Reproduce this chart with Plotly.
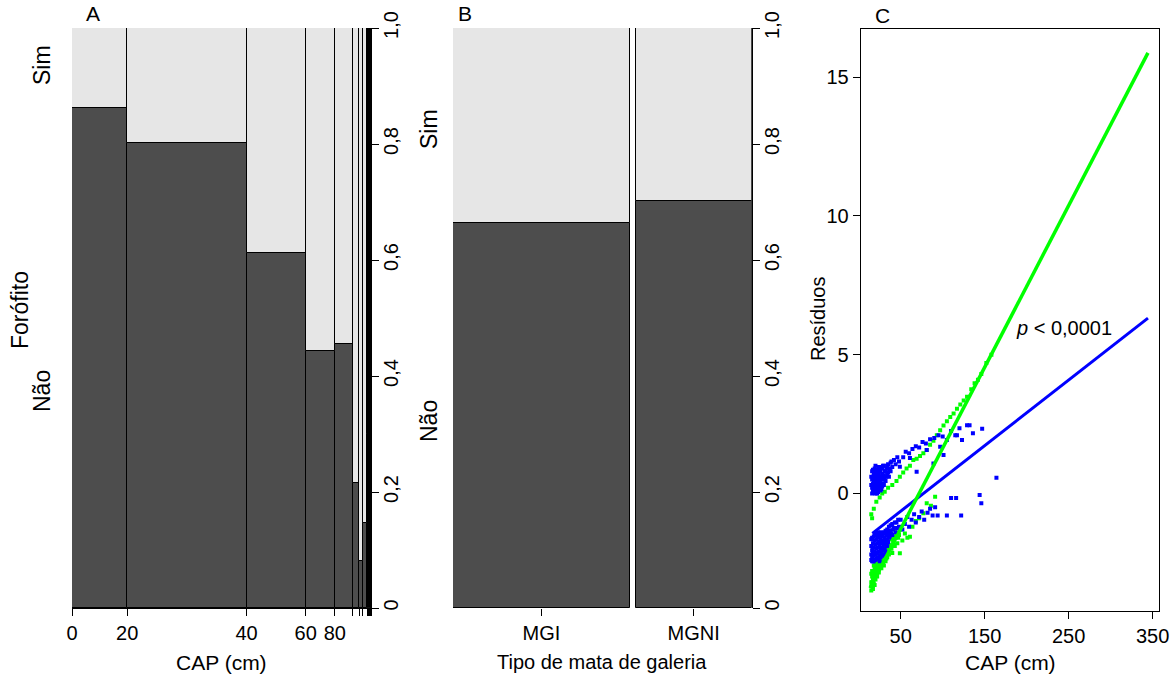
import plotly.graph_objects as go
import numpy as np

W, H = 1172, 678

# ---------------- Panel A: spineplot Forófito ~ CAP ----------------
cap_breaks = [0, 20, 40, 60, 80, 100, 120, 140, 160, 180, 200, 220, 240, 260, 280, 300, 320, 340, 360]
cap_counts = [550, 1190, 590, 290, 177, 68, 36, 42, 8, 6, 5, 4, 4, 3, 3, 2, 2, 1]
cap_nao = [0.862, 0.802, 0.612, 0.443, 0.455, 0.216, 0.081, 0.147,
           0.30, 0.0, 0.50, 0.0, 0.25, 0.0, 0.0, 0.50, 0.0, 0.0]
cap_labelled = [0, 20, 40, 60, 80]

# ---------------- Panel B: spineplot Forófito ~ tipo de mata ----------------
mata_types = ["MGI", "MGNI"]
mata_counts = [604, 396]
mata_nao = [0.664, 0.702]

# ---------------- Panel C: residuals vs CAP ----------------
blue_up_cap = [16, 16, 16, 17, 17, 17, 18, 18, 18, 19, 19, 19, 20, 20, 20, 21, 21, 21, 22, 22, 22, 22,
               23, 23, 24, 24, 25, 25, 26, 26, 27, 27, 28, 28, 29, 30, 30, 31, 32, 33, 34, 35, 36, 38,
               40, 42, 44, 46, 48, 49, 53, 56, 60, 61, 64, 68, 69, 72, 76, 80, 81, 85, 89, 90, 95, 97,
               100, 101, 105, 110, 115, 117, 120, 123, 129, 132, 136, 147,
               15, 15, 16, 17, 18, 19, 20, 20, 21, 22, 23, 23, 24, 24, 25, 25, 26, 26, 27, 27, 28, 28,
               29, 29, 30, 31, 32, 33, 34, 35, 36, 37, 38, 39]
blue_up_res = [0.2, 0.5, 0.8, 0.1, 0.35, 0.6, 0.25, 0.45, 0.7, 0.15, 0.4, 0.9, 0.3, 0.55, 0.75, 0.2, 0.45, 0.65,
               0.1, 0.35, 0.6, 0.85, 0.25, 0.5, 0.4, 0.7, 0.2, 0.55, 0.45, 0.8, 0.3, 0.6, 0.5, 0.9, 0.35,
               0.65, 1.0, 0.5, 0.8, 0.6, 1.0, 0.75, 0.9, 1.1, 0.95, 1.2, 1.05, 1.3, 1.15, 0.96, 1.3, 1.5,
               1.45, 1.28, 1.6, 1.7, 0.78, 1.65, 1.85, 1.8, 1.56, 1.95, 1.08, 2.0, 2.1, 1.68, 2.05, 1.38,
               1.92, 2.25, 2.1, 2.1, 2.35, 1.92, 2.46, 2.46, 2.17, 2.33,
               0.3, 0.6, 0.0, 0.85, 0.05, 0.65, 0.0, 1.0, 0.85, 0.0, 0.75, 0.05, 0.15, 0.95, 0.35, 0.85,
               0.1, 0.6, 0.15, 0.95, 0.25, 0.7, 0.55, 1.0, 0.3, 0.8, 0.45, 0.9, 0.7, 1.05, 0.6, 0.85,
               0.8, 1.15]

blue_lo_cap = [15, 15, 15, 16, 16, 16, 17, 17, 17, 18, 18, 18, 19, 19, 19, 20, 20, 20, 21, 21, 21, 22, 22, 22,
               23, 23, 23, 24, 24, 25, 25, 25, 26, 26, 27, 27, 27, 28, 28, 29, 29, 30, 30, 31, 31, 32, 32,
               33, 33, 34, 34, 35, 36, 36, 38, 40, 40, 42, 44, 45, 48, 50, 52, 55, 58, 60, 63, 66, 68, 72,
               75, 78, 82, 85, 88, 91, 94, 105, 110, 116, 122, 144, 146, 164,
               15, 16, 17, 18, 19, 20, 21, 22, 23, 24, 24, 25, 26, 26, 27, 28, 28, 29, 30, 31, 31, 32,
               33, 34, 34, 35, 36, 37, 38, 39, 41, 43, 46, 47]
blue_lo_res = [-1.9, -2.2, -2.4, -1.6, -2.05, -2.3, -1.8, -2.15, -2.45, -1.55, -1.95, -2.25, -1.7, -2.1, -2.4,
               -1.5, -1.85, -2.2, -1.65, -2.0, -2.35, -1.45, -1.8, -2.15, -1.6, -1.95, -2.3, -1.75, -2.1,
               -1.5, -1.9, -2.25, -1.65, -2.0, -1.4, -1.8, -2.15, -1.55, -1.95, -1.7, -2.05, -1.45, -1.85,
               -1.6, -2.0, -1.35, -1.75, -1.5, -1.9, -1.3, -1.65, -1.45, -1.2, -1.6, -1.35, -1.1, -1.5,
               -1.25, -1.4, -1.05, -1.2, -0.95, -1.3, -1.1, -0.85, -1.2, -0.95, -0.75, -1.05, -0.85, -0.65,
               -0.95, -0.7, -0.55, -0.8, -0.5, -0.8, -0.8, -0.17, -0.17, -0.8, -0.06, -0.36, 0.56,
               -1.65, -2.45, -1.95, -2.45, -1.5, -2.4, -1.45, -2.35, -1.4, -1.55, -2.35, -2.45, -1.45,
               -2.3, -2.0, -1.75, -2.25, -1.45, -2.2, -1.4, -1.8, -2.1, -1.7, -1.45, -1.9, -1.75, -1.4,
               -1.55, -1.15, -1.45, -1.3, -1.05, -1.25, -0.95]

green_lo_cap = [15, 15, 15, 16, 16, 17, 17, 17, 18, 18, 19, 19, 19, 20, 20, 21, 21, 22, 22, 22, 23, 23, 24,
                24, 25, 25, 26, 26, 27, 27, 28, 28, 29, 30, 30, 31, 32, 32, 33, 34, 35, 35, 36, 37, 38, 39,
                40, 41, 42, 43, 44, 45, 46, 48, 49, 50, 52, 55, 58, 61, 64, 68, 72, 77, 81, 86, 91,
                15, 16, 16, 17, 18, 18, 19, 20, 20, 21, 22, 23, 23, 24, 25, 26, 27, 28, 29, 30, 31, 32,
                33, 34, 36, 38, 40, 42, 44, 47]
green_lo_res = [-3.5, -3.2, -2.9, -3.35, -3.0, -3.45, -3.1, -2.8, -3.25, -2.9, -3.3, -3.0, -2.65, -3.1, -2.75,
                -2.95, -2.55, -3.0, -2.7, -2.4, -2.8, -2.5, -2.85, -2.35, -2.65, -2.25, -2.55, -2.15,
                -2.7, -2.35, -2.45, -2.05, -2.3, -2.6, -1.95, -2.2, -2.45, -1.85, -2.1, -2.3, -1.75, -2.05,
                -2.2, -1.9, -1.65, -2.0, -2.15, -1.75, -1.55, -1.9, -1.6, -1.45, -1.8, -1.5, -2.16, -1.3,
                -1.7, -1.45, -1.6, -1.56, -1.2, -1.0, -0.9, -0.72, -0.36, -0.45, -0.12,
                -3.35, -3.2, -2.8, -2.95, -3.05, -2.6, -2.8, -2.9, -2.55, -2.75, -2.85, -2.65, -2.3, -2.6,
                -2.45, -2.35, -2.5, -2.25, -2.55, -2.2, -2.4, -2.05, -2.35, -1.95, -1.85, -1.9, -1.65,
                -1.85, -1.4, -1.6]

green_up_cap = [15, 16, 18, 21, 25, 28, 31, 35, 40, 45, 49, 53, 57, 61, 65, 69, 73, 77, 81, 85, 89, 93, 97,
                101, 105, 109, 113, 117, 121, 125, 129, 134, 138, 142, 146, 152, 158]
green_up_res = [-0.75, -0.9, -0.55, -0.3, -0.15, 0.0, 0.06, 0.2, 0.3, 0.45, 0.6, 0.75, 0.9, 1.0, 1.2, 1.25,
                1.35, 1.45, 1.56, 1.75, 1.9, 2.1, 2.28, 2.45, 2.6, 2.75, 2.88, 3.05, 3.2, 3.35, 3.48, 3.75,
                3.97, 4.1, 4.3, 4.7, 5.0]

blue_line_cap = [16.3, 344.4]
blue_line_res = [-1.44, 6.32]
green_line_cap = [13.5, 344.4]
green_line_res = [-3.41, 15.88]

c_xticks = [50, 150, 250, 350]
c_yticks = [0, 5, 10, 15]
prop_ticks = [0, 0.2, 0.4, 0.6, 0.8, 1.0]
prop_labels = ["0", "0,2", "0,4", "0,6", "0,8", "1,0"]

DARK = "#4D4D4D"
LIGHT = "#E6E6E6"
FONT = "Arial, Liberation Sans, sans-serif"
FS = 20

fig = go.Figure()

# ---- Panel A bars ----
cnt = np.array(cap_counts, dtype=float)
right = np.cumsum(cnt) / cnt.sum()
left = np.concatenate([[0.0], right[:-1]])
centers = (left + right) / 2
widths = right - left
nao = np.array(cap_nao)
fig.add_trace(go.Bar(x=centers, y=nao, base=0, width=widths, xaxis="x", yaxis="y",
                     marker=dict(color=DARK, line=dict(color="black", width=1)), showlegend=False))
fig.add_trace(go.Bar(x=centers, y=1 - nao, base=nao, width=widths, xaxis="x", yaxis="y",
                     marker=dict(color=LIGHT, line=dict(color="black", width=1)), showlegend=False))
tickpos_A = list(left) + [1.0]
ticktext_A = [str(b) if b in cap_labelled else "" for b in cap_breaks]

# ---- Panel B bars ----
off = 0.02
mc = np.array(mata_counts, dtype=float)
p = mc / mc.sum()
bl = np.concatenate([[0.0], np.cumsum(p + off)[:-1]])
br = bl + p
bc = (bl + br) / 2
mn = np.array(mata_nao)
fig.add_trace(go.Bar(x=bc, y=mn, base=0, width=p, xaxis="x2", yaxis="y2",
                     marker=dict(color=DARK, line=dict(color="black", width=1)), showlegend=False))
fig.add_trace(go.Bar(x=bc, y=1 - mn, base=mn, width=p, xaxis="x2", yaxis="y2",
                     marker=dict(color=LIGHT, line=dict(color="black", width=1)), showlegend=False))

# ---- Panel C ----
mk = dict(symbol="square", size=4)
fig.add_trace(go.Scatter(x=green_lo_cap, y=green_lo_res, mode="markers", xaxis="x3", yaxis="y3",
                         marker=dict(color="#00FF00", **mk), showlegend=False))
fig.add_trace(go.Scatter(x=green_up_cap, y=green_up_res, mode="markers", xaxis="x3", yaxis="y3",
                         marker=dict(color="#00FF00", **mk), showlegend=False))
fig.add_trace(go.Scatter(x=blue_up_cap, y=blue_up_res, mode="markers", xaxis="x3", yaxis="y3",
                         marker=dict(color="#0000FF", **mk), showlegend=False))
fig.add_trace(go.Scatter(x=blue_lo_cap, y=blue_lo_res, mode="markers", xaxis="x3", yaxis="y3",
                         marker=dict(color="#0000FF", **mk), showlegend=False))
fig.add_trace(go.Scatter(x=blue_line_cap, y=blue_line_res, mode="lines", xaxis="x3", yaxis="y3",
                         line=dict(color="#0000FF", width=3), showlegend=False))
fig.add_trace(go.Scatter(x=green_line_cap, y=green_line_res, mode="lines", xaxis="x3", yaxis="y3",
                         line=dict(color="#00FF00", width=3.5), showlegend=False))

def px(x):
    return x / W

def py(y):
    return 1 - y / H

axcommon = dict(ticks="outside", ticklen=7, tickcolor="black", tickwidth=1, showgrid=False, zeroline=False,
                tickfont=dict(family=FONT, size=FS, color="black"), linecolor="black", linewidth=1,
                automargin=False)

yA_dom = [py(608), py(28)]
fig.update_layout(
    width=W, height=H, margin=dict(l=0, r=0, t=0, b=0, autoexpand=False),
    paper_bgcolor="white", plot_bgcolor="white", barmode="overlay", bargap=0,
    font=dict(family=FONT, size=FS, color="black"),
    xaxis=dict(domain=[px(72), px(371)], range=[0, 1], anchor="y", tickvals=tickpos_A, ticktext=ticktext_A,
               showline=True, **axcommon),
    yaxis=dict(domain=yA_dom, range=[0, 1], anchor="x", side="right", tickvals=prop_ticks,
               ticktext=prop_labels, tickangle=-90, showline=True, ticklabelstandoff=-5, **axcommon),
    xaxis2=dict(domain=[px(453), px(751.7)], range=[0, 1 + off], anchor="y2", tickvals=list(bc),
                ticktext=mata_types, showline=False, **axcommon),
    yaxis2=dict(domain=yA_dom, range=[0, 1], anchor="x2", side="right", tickvals=prop_ticks,
                ticktext=prop_labels, tickangle=-90, showline=True, ticklabelstandoff=-5, **axcommon),
    xaxis3=dict(domain=[px(860.7), px(1159.3)], range=[2.4, 357.9], anchor="y3", tickvals=c_xticks,
                showline=True, mirror=True, **axcommon),
    yaxis3=dict(domain=[py(611), py(29.3)], range=[-4.24, 16.73], anchor="x3", tickvals=c_yticks,
                showline=True, mirror=True, **axcommon),
)

def ann(text, x, y, angle=0, size=FS, **kw):
    fig.add_annotation(text=text, x=px(x), y=py(y), xref="paper", yref="paper", showarrow=False,
                       textangle=angle, font=dict(family=FONT, size=size, color="black"),
                       xanchor="center", yanchor="middle", **kw)

ann("A", 93, 14, size=21)
ann("B", 465, 14, size=21)
ann("C", 882, 15, size=21)
ann("CAP (cm)", 221.5, 662, size=21)
ann("Tipo de mata de galeria", 602, 662, size=20)
ann("CAP (cm)", 1010, 662, size=21)
ann("Resíduos", 818, 318, angle=-90, size=20)
ann("Forófito", 20, 310, angle=-90, size=23)
ann("Sim", 42, 65, angle=-90, size=23)
ann("Não", 42, 391, angle=-90, size=23)
ann("Sim", 429, 129, angle=-90, size=23)
ann("Não", 429, 421, angle=-90, size=23)

fig.add_annotation(text="<i>p</i> < 0,0001", x=244, y=5.96, xref="x3", yref="y3", showarrow=False,
                   font=dict(family=FONT, size=20, color="black"), xanchor="center", yanchor="middle")

fig.write_html("out.html", config={"displayModeBar": False},
               post_script="document.body.style.margin='0';document.body.style.padding='0';")
